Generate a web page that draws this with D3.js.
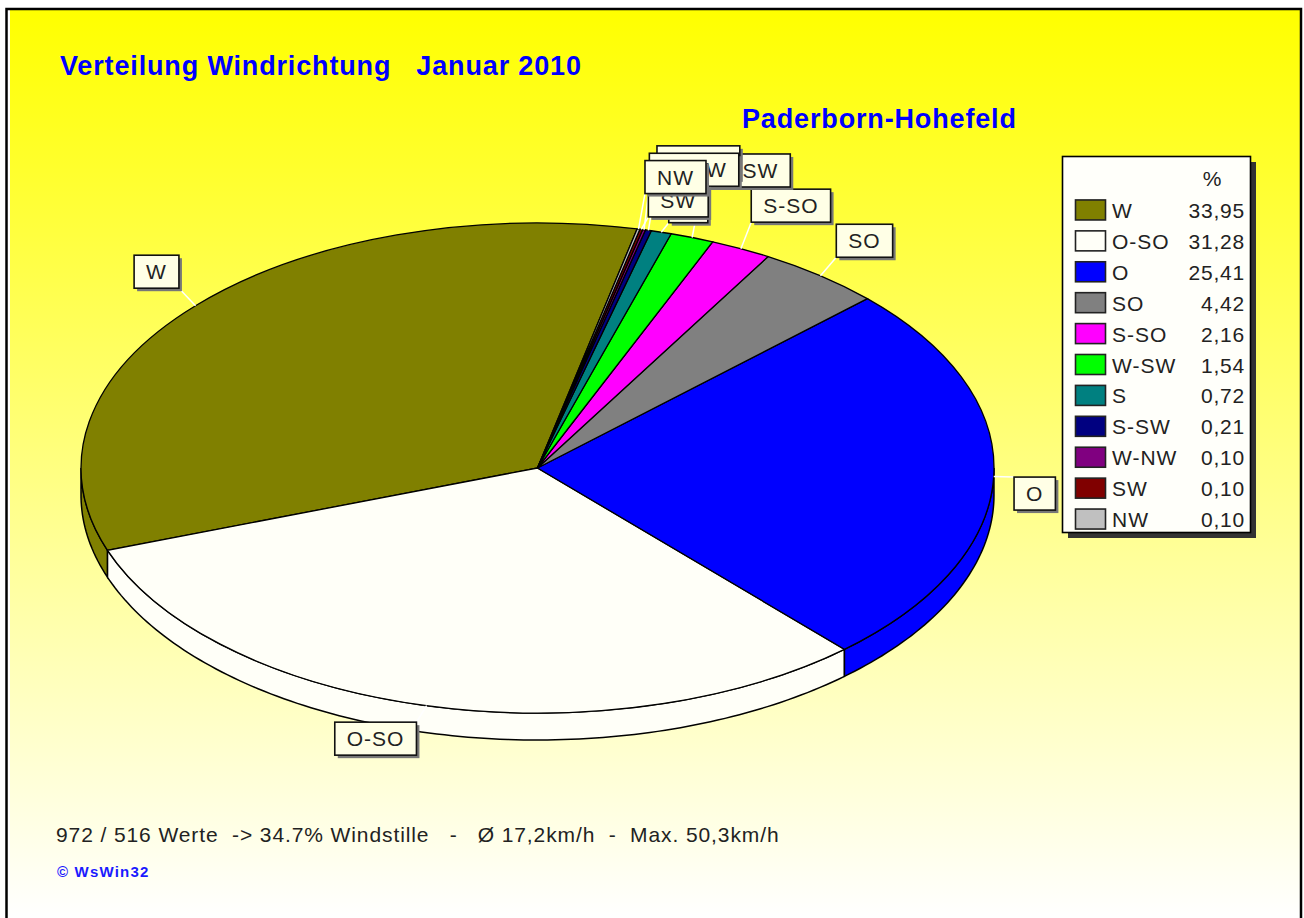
<!DOCTYPE html>
<html>
<head>
<meta charset="utf-8">
<title>Verteilung Windrichtung</title>
<script src="https://cdn.jsdelivr.net/npm/d3@7"></script>
<style>
    html, body { margin: 0; padding: 0; background: #fff; }
    svg { display: block; }
    text { font-family: "Liberation Sans", Arial, sans-serif; white-space: pre; }
</style>
</head>
<body>
<div id="chart"></div>
<script>
const categories = ["W", "O-SO", "O", "SO", "S-SO", "W-SW", "S", "S-SW", "W-NW", "SW", "NW"];
const percents = [33.95, 31.28, 25.41, 4.42, 2.16, 1.54, 0.72, 0.21, 0.10, 0.10, 0.10];
const percentLabels = ["33,95", "31,28", "25,41", "4,42", "2,16", "1,54", "0,72", "0,21", "0,10", "0,10", "0,10"];
const colors = ["#808000", "#fffff8", "#0000ff", "#808080", "#ff00ff", "#00ff00", "#008080", "#000080", "#800080", "#800000", "#c0c0c0"];

// where each callout box sits relative to the rim point of its slice
const labelOffsetX = [-39, -51, 41, 44, 50, 54, 27, 50, 50, 37, 37];
const labelOffsetY = [-34, 33, 17, -35, -43, -67, -26, -68, -60, -29, -52];

const title = "Verteilung Windrichtung   Januar 2010";
const station = "Paderborn-Hohefeld";
const footer = "972 / 516 Werte  -> 34.7% Windstille   -   Ø 17,2km/h  -  Max. 50,3km/h";
const credit = "© WsWin32";

const width = 1304, height = 918;
const cx = 537.5, cy = 468, rx = 456.5, ry = 245, depth = 27;
const startDeg = 12.6;

const svg = d3.select("#chart").append("svg")
    .attr("width", width)
    .attr("height", height);

const grad = svg.append("defs").append("linearGradient")
    .attr("id", "bg")
    .attr("x1", 0).attr("x2", 0).attr("y1", 0).attr("y2", 1);
grad.append("stop").attr("offset", "0%").attr("stop-color", "#ffff00");
grad.append("stop").attr("offset", "100%").attr("stop-color", "#ffffff");

// frame, open at the bottom like the screenshot
svg.append("rect")
    .attr("x", 10).attr("y", 10)
    .attr("width", 1290).attr("height", 908)
    .attr("fill", "url(#bg)");
svg.append("path")
    .attr("d", "M6.5,918V9H1301V918")
    .attr("fill", "none")
    .attr("stroke", "#000")
    .attr("stroke-width", 2.5);

svg.append("text")
    .attr("x", 60).attr("y", 75)
    .attr("font-size", 27).attr("font-weight", "bold")
    .attr("letter-spacing", 0.85)
    .attr("fill", "#0000ff")
    .text(title);
svg.append("text")
    .attr("x", 742).attr("y", 128)
    .attr("font-size", 27).attr("font-weight", "bold")
    .attr("letter-spacing", 0.85)
    .attr("fill", "#0000ff")
    .text(station);

// pie
const rad = d3.scaleLinear().domain([0, 180]).range([0, Math.PI]);
const pie = d3.pie()
    .sort(null)
    .startAngle(rad(startDeg))
    .endAngle(rad(startDeg - 360));
const slices = pie(percents);

const px = a => cx + rx * Math.sin(a);
const py = a => cy - ry * Math.cos(a);

// side wall: only the part of a slice on the lower half of the ellipse shows
const wallLine = d3.line().x(d => d[0]).y(d => d[1]);
function wallPath(d) {
    // bring the slice to angles in [0, 2pi) so that the lower half is pi/2..3pi/2
    let lo = d.endAngle, hi = d.startAngle;
    const shift = Math.floor(lo / (2 * Math.PI)) * 2 * Math.PI;
    lo -= shift; hi -= shift;
    const a0 = Math.max(lo, Math.PI / 2), a1 = Math.min(hi, 3 * Math.PI / 2);
    if (a1 <= a0) return null;
    const steps = d3.range(a0, a1, rad(1)).concat([a1]);
    const rim = steps.map(a => [px(a), py(a)]);
    const under = steps.slice().reverse().map(a => [px(a), py(a) + depth]);
    return wallLine(rim.concat(under)) + "Z";
}

svg.append("g").selectAll("path")
    .data(slices)
    .join("path")
    .attr("d", wallPath)
    .attr("fill", (d, i) => colors[i])
    .attr("stroke", "#000")
    .attr("stroke-width", 1.5);

const arc = d3.arc().innerRadius(0).outerRadius(rx);
svg.append("g")
    .attr("transform", `translate(${cx},${cy}) scale(1,${ry / rx})`)
    .selectAll("path")
    .data(slices)
    .join("path")
    .attr("d", arc)
    .attr("fill", (d, i) => colors[i])
    .attr("stroke", "#000")
    .attr("stroke-width", 1.3)
    .attr("vector-effect", "non-scaling-stroke");

// callouts
const labelFont = 21, labelSpacing = 1, boxH = 33;
const labelLayer = svg.append("g");
const labels = slices.map((d, i) => {
    const mid = (d.startAngle + d.endAngle) / 2;
    return {name: categories[i], ex: px(mid), ey: py(mid), bx: px(mid) + labelOffsetX[i], by: py(mid) + labelOffsetY[i]};
});

const leaders = labelLayer.append("g");
labels.forEach(l => {
    const t = labelLayer.append("text")
        .attr("font-size", labelFont)
        .attr("letter-spacing", labelSpacing)
        .attr("text-anchor", "middle")
        .attr("fill", "#222")
        .attr("x", l.bx).attr("y", l.by + 7.5)
        .text(l.name);
    const w = t.node().getComputedTextLength() + 24;
    const x0 = l.bx - w / 2, y0 = l.by - boxH / 2;

    // leader stops at the nearest point of the box
    leaders.append("line")
        .attr("x1", l.ex).attr("y1", l.ey)
        .attr("x2", Math.max(x0, Math.min(x0 + w, l.ex)))
        .attr("y2", Math.max(y0, Math.min(y0 + boxH, l.ey)))
        .attr("stroke", "#fff")
        .attr("stroke-width", 1.5);

    labelLayer.insert("rect", () => t.node())
        .attr("x", x0 + 3).attr("y", y0 + 3)
        .attr("width", w).attr("height", boxH)
        .attr("fill", "#777");
    labelLayer.insert("rect", () => t.node())
        .attr("x", x0).attr("y", y0)
        .attr("width", w).attr("height", boxH)
        .attr("fill", "#ffffe6")
        .attr("stroke", "#111")
        .attr("stroke-width", 1.6);
});

// legend
const legendX = 1062, legendY = 156, legendW = 188, legendH = 376;
const legend = svg.append("g");
legend.append("rect")
    .attr("x", legendX + 6).attr("y", legendY + 6)
    .attr("width", legendW).attr("height", legendH)
    .attr("fill", "#333");
legend.append("rect")
    .attr("x", legendX + 0.5).attr("y", legendY + 0.5)
    .attr("width", legendW).attr("height", legendH)
    .attr("fill", "#fffffa")
    .attr("stroke", "#000")
    .attr("stroke-width", 1.6);
legend.append("text")
    .attr("x", 1212).attr("y", 186)
    .attr("font-size", 21)
    .attr("text-anchor", "middle")
    .attr("fill", "#222")
    .text("%");

const row = d3.scaleBand()
    .domain(categories)
    .range([195, 535]);
const rows = legend.selectAll("g.row")
    .data(categories)
    .join("g")
    .attr("class", "row")
    .attr("transform", d => `translate(0,${row(d) + row.bandwidth() / 2})`);
rows.append("rect")
    .attr("x", 1075.5).attr("y", -10.5)
    .attr("width", 30).attr("height", 20)
    .attr("fill", (d, i) => colors[i])
    .attr("stroke", "#222")
    .attr("stroke-width", 1.6);
rows.append("text")
    .attr("x", 1112).attr("y", 7.5)
    .attr("font-size", 21)
    .attr("letter-spacing", labelSpacing)
    .attr("fill", "#222")
    .text(d => d);
rows.append("text")
    .attr("x", 1245).attr("y", 7.5)
    .attr("font-size", 21)
    .attr("letter-spacing", 0.8)
    .attr("text-anchor", "end")
    .attr("fill", "#222")
    .text((d, i) => percentLabels[i]);

svg.append("text")
    .attr("x", 56).attr("y", 842)
    .attr("font-size", 21)
    .attr("letter-spacing", 0.9)
    .attr("fill", "#222")
    .text(footer);
svg.append("text")
    .attr("x", 57).attr("y", 877)
    .attr("font-size", 15)
    .attr("font-weight", "bold")
    .attr("letter-spacing", 1.2)
    .attr("fill", "#1a1aff")
    .text(credit);
</script>
</body>
</html>
